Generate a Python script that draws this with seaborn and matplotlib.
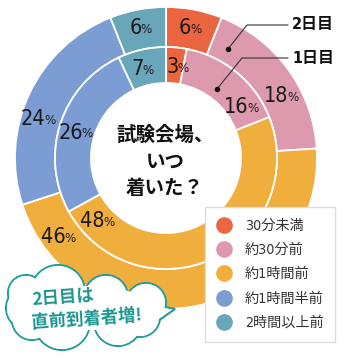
import numpy as np
import matplotlib
matplotlib.use('Agg')
import matplotlib.pyplot as plt
import matplotlib.patches as mpatches
from matplotlib.lines import Line2D
from matplotlib import font_manager
import seaborn as sns

# data
categories = ['30分未満', '約30分前', '約1時間前', '約1時間半前', '2時間以上前']
day2 = [6, 18, 46, 24, 6]   # outer ring (2日目)
day1 = [3, 16, 48, 26, 7]   # inner ring (1日目)
colors = ['#EB6541', '#DD9AAE', '#F0AE3D', '#7C9DD3', '#69A6B9']

# label angle nudges (deg) so labels sit where the original put them
day2_shift = [0, 8, 64, -8, 0]
day1_shift = [2, 17, 72, -2, -2]

sns.set_theme(style='white')
jp = 'Noto Sans CJK JP'
plt.rcParams['font.family'] = [jp, 'DejaVu Sans']

# look for a narrow/condensed latin face for the numbers
narrow, stretch, num_size = 'DejaVu Sans', 'normal', 14
for f in font_manager.fontManager.ttflist:
    if ('Narrow' in f.name or 'Condensed' in f.name or
            f.stretch in ('condensed', 'semi-condensed', 'extra-condensed')):
        if f.style == 'normal':
            narrow, stretch, num_size = f.name, f.stretch, 15.5
            break

W, H = 350, 361
fig = plt.figure(figsize=(W / 100, H / 100), dpi=100)
fig.patch.set_facecolor('white')

# pie axes: center (166,158) px, outer radius 151 px
cx, cy, R = 166, 158, 151
lim = 1.08
side = 2 * lim * R
ax = fig.add_axes([(cx - side / 2) / W, (H - cy - side / 2) / H, side / W, side / H])

ax.pie(day2, radius=1.0, colors=colors, startangle=90, counterclock=False,
       wedgeprops=dict(width=0.265, edgecolor='white', linewidth=1.3))
ax.pie(day1, radius=0.735, colors=colors, startangle=90, counterclock=False,
       wedgeprops=dict(width=0.238, edgecolor='white', linewidth=1.3))
ax.set_xlim(-lim, lim)
ax.set_ylim(-lim, lim)
ax.set_aspect('equal')
ax.axis('off')


def ring_labels(vals, shifts, r):
    start = 0
    for v, s in zip(vals, shifts):
        deg = (start + v / 2) * 3.6 + s
        start += v
        x, y = r * np.sin(np.radians(deg)), r * np.cos(np.radians(deg))
        off = (len(str(v)) * 10 - 9) / 2 * 0.72
        ax.annotate(str(v), xy=(x, y), xytext=(off, 0), textcoords='offset points',
                    ha='right', va='center', fontsize=num_size, color='#1a1a1a',
                    family=[narrow, 'DejaVu Sans'], fontstretch=stretch)
        ax.annotate('%', xy=(x, y), xytext=(off - 0.8, -1), textcoords='offset points',
                    ha='left', va='center', fontsize=9.5, color='#1a1a1a',
                    family=[narrow, 'DejaVu Sans'], fontstretch=stretch)


ring_labels(day2, day2_shift, 0.875)
ring_labels(day1, day1_shift, 0.61)

# overlay in pixel coords for annotations
ov = fig.add_axes([0, 0, 1, 1])
ov.set_xlim(0, W)
ov.set_ylim(H, 0)
ov.axis('off')

# center title
for txt, yy in [('試験会場、', 135), ('いつ', 162), ('着いた？', 188)]:
    ov.text(165, yy, txt, ha='center', va='center', fontsize=14,
            fontweight='bold', color='#111111')

# leader lines for ring names
for (dx, dy), (ex, ey), lab in [((228, 49), (247, 25), '2日目'),
                                ((217, 89), (242, 58), '1日目')]:
    ov.plot([dx, ex, 288], [dy, ey, ey], color='#333333', lw=0.8)
    ov.plot(dx, dy, 'o', color='#111111', ms=3)
    ov.text(292, ey, lab, ha='left', va='center', fontsize=11.5, fontweight='bold',
            color='#111111', family=[narrow, jp], fontstretch=stretch)

# speech bubble (cloud)
teal = '#229C9A'
bumps = [(28, 308, 22), (26, 293, 18), (58, 292, 27), (106, 297, 22),
         (146, 303, 20), (140, 317, 20), (118, 322, 24), (62, 322, 28), (32, 320, 20)]
for bx, by, br in bumps:
    ov.add_patch(mpatches.Circle((bx, by), br, facecolor='white', edgecolor=teal,
                                 lw=1.5, zorder=5))
ov.add_patch(mpatches.Polygon([(155, 305), (175, 309), (158, 321)], closed=True,
                              facecolor='white', edgecolor=teal, lw=1.5, zorder=5))
for bx, by, br in bumps:
    ov.add_patch(mpatches.Circle((bx, by), br - 0.9, facecolor='white',
                                 edgecolor='none', zorder=6))
ov.add_patch(mpatches.Polygon([(152, 306), (172, 309.5), (155, 319)], closed=True,
                              facecolor='white', edgecolor='none', zorder=6))
ov.add_patch(mpatches.Ellipse((90, 308), 120, 44, facecolor='white', edgecolor='none',
                              zorder=6))
ov.text(32, 300, '2日目は', ha='left', va='center', fontsize=12.5, fontweight='bold',
        color='#1D958F', rotation=4, rotation_mode='anchor', zorder=7)
ov.text(32, 323, '直前到着者増!', ha='left', va='center', fontsize=12.5,
        fontweight='bold', color='#1D958F', rotation=4, rotation_mode='anchor', zorder=7)

# legend
handles = [Line2D([], [], marker='o', ls='none', ms=12, markerfacecolor=c,
                  markeredgecolor='none') for c in colors]
leg = ov.legend(handles, categories, loc='upper left', bbox_to_anchor=(205, 207),
                bbox_transform=ov.transData, borderaxespad=0, frameon=True,
                fancybox=False, framealpha=1, edgecolor='#dddddd',
                prop=font_manager.FontProperties(family=[narrow, jp], size=10.2,
                                                 stretch=stretch),
                borderpad=0.85, handlelength=1.0, handletextpad=0.95, labelspacing=0.72)
leg.get_frame().set_linewidth(1.0)
for t in leg.get_texts():
    t.set_color('#333333')
leg.set_zorder(8)

fig.savefig('out.png', dpi=100, facecolor='white')
